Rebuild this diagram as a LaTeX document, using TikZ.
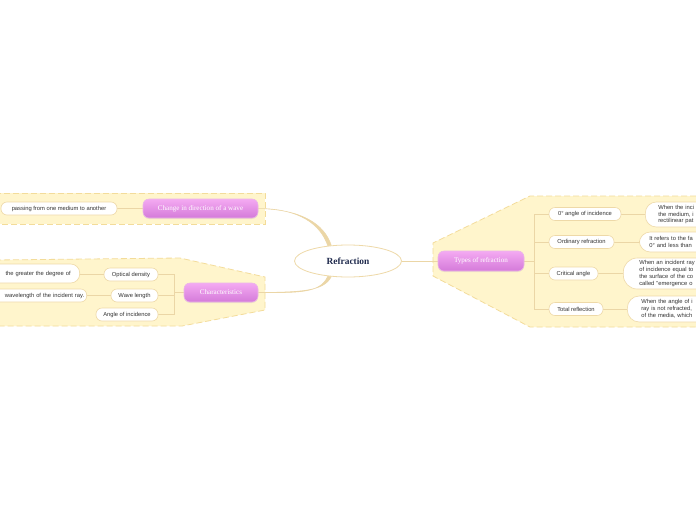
\documentclass[tikz,border=0pt]{standalone}
\usepackage{fontspec}
\setmainfont{Liberation Sans}
\newfontfamily\ttlfont{Liberation Serif}
\usetikzlibrary{shapes.geometric,shadows,backgrounds}
\definecolor{bandfill}{HTML}{FFF5CC}
\definecolor{bandline}{HTML}{F3DC9A}
\definecolor{conn}{HTML}{EBD6A6}
\definecolor{leafline}{HTML}{EED9A8}
\definecolor{pinktop}{HTML}{F4AAF2}
\definecolor{pinkbot}{HTML}{D47AD9}
\definecolor{pinkline}{HTML}{EAB6E8}
\definecolor{txt}{HTML}{333333}
\definecolor{navy}{HTML}{1F2A4D}
\tikzset{
  band/.style={fill=bandfill, draw=bandline, line width=0.8pt, dash pattern=on 6pt off 3pt},
  rootnode/.style={ellipse, draw=leafline, line width=0.8pt, fill=white, minimum width=107, minimum height=32, inner sep=0pt, font=\ttlfont\bfseries\fontsize{9.4}{10}\selectfont, text=navy},
  topic/.style={rounded corners=6pt, draw=pinkline, line width=0.6pt, top color=pinktop, bottom color=pinkbot, text=white, font=\ttlfont\fontsize{7.1}{8}\selectfont, inner sep=0pt, drop shadow={opacity=0.12, shadow xshift=0pt, shadow yshift=-1pt}},
  leaf/.style={rounded corners=6pt, draw=leafline, line width=0.6pt, fill=white, text=txt, font=\fontsize{5.8}{7}\selectfont, inner sep=0pt, minimum height=13},
  desc/.style={rounded corners=11pt, draw=leafline, line width=0.6pt, fill=white, text=txt, font=\fontsize{5.8}{6.9}\selectfont, inner ysep=0pt, text width=80pt, align=left, anchor=west},
  link/.style={draw=conn, line width=0.8pt},
  branch/.style={fill=conn, draw=conn, line width=0.5pt, line join=round}
}
\begin{document}
\begin{tikzpicture}[x=1pt,y=-1pt]
\useasboundingbox (0,0) rectangle (696,520);

% bands (background layer)
\begin{scope}[on background layer]
\fill[white] (0,0) rectangle (696,520);
\draw[band] (-5,193) -- (265,193) -- (265,224) -- (-5,224) -- cycle;
\draw[band] (-5,260) -- (180,258) -- (265,277) -- (265,310) -- (182,326) -- (-5,326) -- cycle;
\draw[band] (705,196) -- (530,196) -- (433,243) -- (433,276) -- (530,327) -- (705,327) -- cycle;
\end{scope}

% central
\node[rootnode] (root) at (348,261) {Refraction};

% main topics
\node[topic, minimum width=115, minimum height=19] (chg) at (200.5,208.5) {Change in direction of a wave};
\node[topic, minimum width=74, minimum height=19] (char) at (221,292.5) {Characteristics};
\node[topic, minimum width=86, minimum height=20] (types) at (481,261) {Types of refraction};

% left leaves
\node[leaf, minimum width=116] (pass) at (59,208.5) {passing from one medium to another};
\node[leaf, minimum width=54] (od) at (131,274.5) {Optical density};
\node[leaf, minimum width=47] (wl) at (134.5,295.5) {Wave length};
\node[leaf, minimum width=62] (ai) at (127,314.5) {Angle of incidence};
\node[leaf, anchor=east, minimum height=19, text width=80pt, align=right, inner xsep=9pt, rounded corners=9pt] (odd) at (80,273.5) {the greater the degree of};
\node[leaf, anchor=east, text width=90pt, align=right, inner xsep=2.5pt] (wld) at (87,295.5) {wavelength of the incident ray.};

% right leaves
\node[leaf, minimum width=72] (t1) at (585,214) {0° angle of incidence};
\node[leaf, minimum width=65] (t2) at (581.5,242) {Ordinary refraction};
\node[leaf, minimum width=49] (t3) at (573.5,273.5) {Critical angle};
\node[leaf, minimum width=54] (t4) at (576,309) {Total reflection};

\node[desc, inner xsep=13pt, minimum height=25] (d1) at (645,214.5) {When the inci\\the medium, i\\rectilinear pat};
\node[desc, inner xsep=10pt, minimum height=20] (d2) at (639,242) {It refers to the fa\\0° and less than};
\node[desc, inner xsep=16pt, minimum height=31, rounded corners=14pt] (d3) at (623,273.5) {When an incident ray\\of incidence equal to\\the surface of the co\\called "emergence o};
\node[desc, inner xsep=14pt, minimum height=26, rounded corners=12pt] (d4) at (627,309) {When the angle of i\\ray is not refracted,\\of the media, which};

% connectors (background layer, above the bands)
\begin{scope}[on background layer]
\path[branch] (chg.east) .. controls (300,208.6) and (320.5,224.5) .. (root.143)
  -- (root.137) .. controls (324,223) and (300,209.4) .. (chg.east) -- cycle;
\path[branch] (char.east) .. controls (300,292.9) and (320.5,293) .. (root.217)
  -- (root.223) .. controls (324,291.5) and (300,292.1) .. (char.east) -- cycle;
\draw[link] (root.east) -- (types.west);

\draw[link] (pass.east) -- (chg.west);
\coordinate (cl) at (174,292.5);
\draw[link] (char.west) -- (cl);
\draw[link] (cl) |- (od.east);
\draw[link] (cl) |- (wl.east);
\draw[link] (cl) |- (ai.east);
\draw[link] (od.west) -- (odd.east |- od.west);
\draw[link] (wl.west) -- (wld.east);

\coordinate (cr) at (534,261);
\draw[link] (types.east) -- (cr);
\draw[link] (cr) |- (t1.west);
\draw[link] (cr) |- (t2.west);
\draw[link] (cr) |- (t3.west);
\draw[link] (cr) |- (t4.west);
\draw[link] (t1.east) -- (d1.west |- t1.east);
\draw[link] (t2.east) -- (d2.west);
\draw[link] (t3.east) -- (d3.west);
\draw[link] (t4.east) -- (d4.west);
\end{scope}
\end{tikzpicture}
\end{document}
